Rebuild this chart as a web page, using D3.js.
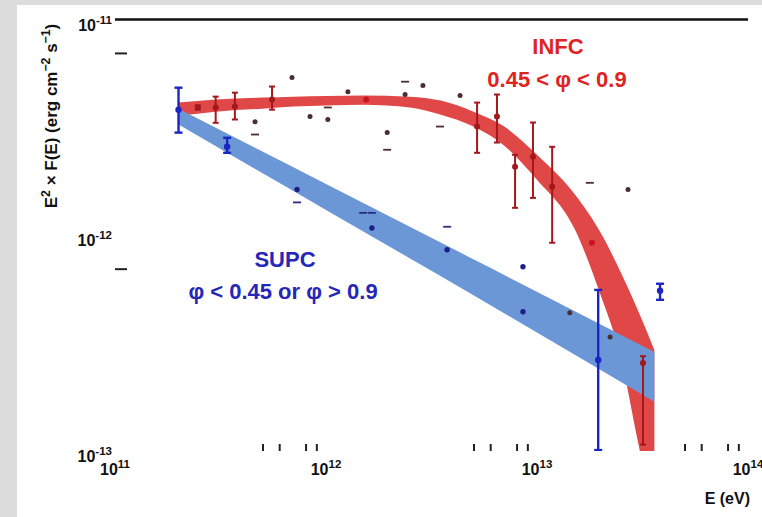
<!DOCTYPE html>
<html><head><meta charset="utf-8">
<script src="https://cdn.jsdelivr.net/npm/d3@7"></script>
<style>
html,body{margin:0;padding:0;background:#dcdcdc;}
svg{display:block;}
</style></head><body>
<svg id="c" width="762" height="517"></svg>
<script>
// ---------- data ----------
const xMajorTicks = [1e11, 1e12, 1e13, 1e14];
const xMajorExp = ["11", "12", "13", "14"];
const xMinorTicks = [5e11, 6e11, 8e11, 9e11, 5e12, 6e12, 8e12, 9e12, 5e13, 6e13, 8e13, 9e13];
const yMajorTicks = [1e-11, 1e-12, 1e-13];
const yMajorExp = ["-11", "-12", "-13"];
const yMinorTicks = [7e-12, 7e-13];

// INFC (0.45 < phi < 0.9) fit band
const infcBandE  = [2e11, 3e11, 5e11, 7e11, 1e12, 1.5e12, 2.5e12, 3.5e12, 5e12, 7e12, 1e13, 1.5e13, 2e13, 2.5e13, 3e13, 3.6e13];
const infcBandHi = [4.12e-12, 4.26e-12, 4.35e-12, 4.39e-12, 4.42e-12, 4.44e-12, 4.39e-12, 4.21e-12, 3.74e-12, 3.19e-12, 2.36e-12, 1.56e-12, 1.03e-12, 6.7e-13, 4.51e-13, 2.94e-13];
const infcBandLo = [3.58e-12, 3.74e-12, 3.86e-12, 3.95e-12, 3.99e-12, 4.03e-12, 3.91e-12, 3.62e-12, 3.19e-12, 2.6e-12, 1.81e-12, 1.08e-12, 5.3e-13, 2.7e-13, 1.12e-13, 4.8e-14];

// SUPC (phi < 0.45 or phi > 0.9) fit band
const supcBandE  = [2e11, 1e12, 5e12, 3.6e13];
const supcBandHi = [3.86e-12, 1.73e-12, 7.74e-13, 2.88e-13];
const supcBandLo = [3.26e-12, 1.31e-12, 5.27e-13, 1.69e-13];

// INFC points with error bars
const infcE  = [2.47e11, 3.0e11, 3.7e11, 5.55e11, 5.2e12, 6.46e12, 7.87e12, 9.57e12, 1.18e13, 3.18e13];
const infcF  = [3.91e-12, 3.91e-12, 3.95e-12, 4.26e-12, 3.19e-12, 3.55e-12, 2.08e-12, 2.31e-12, 1.68e-12, 2.56e-13];
const infcHi = [4.0e-12, 4.39e-12, 4.58e-12, 4.89e-12, 4.12e-12, 4.49e-12, 2.36e-12, 3.33e-12, 2.57e-12, 2.75e-13];
const infcLo = [3.82e-12, 3.32e-12, 3.44e-12, 3.82e-12, 2.41e-12, 2.69e-12, 1.34e-12, 1.49e-12, 9.23e-13, 1.07e-13];
// INFC points without visible bars
const infcDotE = [1.55e12, 1.82e13];
const infcDotF = [4.26e-12, 9.23e-13];

// SUPC points with error bars
const supcE  = [2.0e11, 3.4e11, 1.95e13, 3.83e13];
const supcF  = [3.82e-12, 2.57e-12, 2.64e-13, 5.53e-13];
const supcHi = [4.83e-12, 2.83e-12, 5.58e-13, 5.96e-13];
const supcLo = [2.99e-12, 2.41e-12, 1.01e-13, 5.02e-13];
// SUPC points without visible bars
const supcDotE = [7.29e11, 1.65e12, 3.75e12, 8.58e12, 8.58e12];
const supcDotF = [1.63e-12, 1.08e-12, 8.57e-13, 7.14e-13, 4.42e-13];
const supcCapE = [7.29e11, 1.5e12, 1.65e12, 3.75e12];
const supcCapF = [1.42e-12, 1.27e-12, 1.27e-12, 1.095e-12];

// faint points
const faintDotE = [6.9e11, 4.61e11, 8.4e11, 1.02e12, 1.27e12, 2.37e12, 2.88e12, 1.95e12, 4.32e12, 2.7e13, 1.43e13, 2.22e13];
const faintDotF = [5.38e-12, 3.36e-12, 3.55e-12, 3.44e-12, 4.63e-12, 4.49e-12, 4.94e-12, 2.99e-12, 4.44e-12, 1.63e-12, 4.37e-13, 3.38e-13];
const faintCapE = [4.61e11, 1.02e12, 2.37e12, 1.95e12, 3.47e12, 1.78e13];
const faintCapF = [2.93e-12, 3.91e-12, 5.15e-12, 2.49e-12, 3.19e-12, 1.75e-12];

// ---------- drawing ----------
const svg = d3.select("#c");
svg.append("rect").attr("x", 17).attr("y", 5).attr("width", 745).attr("height", 512).attr("fill", "#ffffff");

const x = d3.scaleLog().domain([1e11, 1e14]).range([115, 748]);
const y = d3.scaleLog().domain([1e-13, 1e-11]).range([451, 19.5]);

svg.append("defs").append("clipPath").attr("id", "plot")
  .append("rect").attr("x", 115).attr("y", 19).attr("width", 633).attr("height", 432);

const font = "'Liberation Sans', Arial, Helvetica, sans-serif";

// top frame line
svg.append("line").attr("x1", x(1e11)).attr("x2", x(1e14)).attr("y1", y(1e-11)).attr("y2", y(1e-11))
  .attr("stroke", "#111").attr("stroke-width", 2.6);

// minor ticks via axes
const gx = svg.append("g").attr("transform", `translate(0,${y(1e-13)})`)
  .call(d3.axisBottom(x).tickValues(xMinorTicks).tickSize(-7).tickFormat(""));
gx.select(".domain").remove();
gx.selectAll(".tick line").attr("stroke", "#222").attr("stroke-width", 2);

const gy = svg.append("g").attr("transform", `translate(${x(1e11)},0)`)
  .call(d3.axisLeft(y).tickValues(yMinorTicks).tickSize(-12).tickFormat(""));
gy.select(".domain").remove();
gy.selectAll(".tick line").attr("stroke", "#222").attr("stroke-width", 2);

// tick labels
function sci(t, base, exp) {
  t.append("tspan").text(base);
  t.append("tspan").attr("dy", -7).attr("font-size", "0.72em").text(exp);
}
xMajorTicks.forEach((v, i) => {
  const t = svg.append("text").attr("x", x(v)).attr("y", 475).attr("text-anchor", "middle")
    .attr("font-family", font).attr("font-weight", "bold").attr("font-size", 16).attr("fill", "#111");
  sci(t, "10", xMajorExp[i]);
});
yMajorTicks.forEach((v, i) => {
  const t = svg.append("text").attr("x", 112).attr("y", y(v) + 11).attr("text-anchor", "end")
    .attr("font-family", font).attr("font-weight", "bold").attr("font-size", 16).attr("fill", "#111");
  sci(t, "10", yMajorExp[i]);
});

// axis titles
const yt = svg.append("text").attr("transform", "translate(57,116) rotate(-90)").attr("text-anchor", "middle")
  .attr("font-family", font).attr("font-weight", "bold").attr("font-size", 17).attr("fill", "#111");
[["E", 0], ["2", -7, true], [" × F(E) (erg cm", 7], ["−2", -7, true], [" s", 7], ["−1", -7, true], [")", 7]]
  .forEach(([s, dy, sup]) => {
    const ts = yt.append("tspan").attr("dy", dy).text(s);
    if (sup) ts.attr("font-size", "0.72em");
  });
svg.append("text").attr("x", 750).attr("y", 504).attr("text-anchor", "end")
  .attr("font-family", font).attr("font-weight", "bold").attr("font-size", 16).attr("fill", "#111").text("E (eV)");

// bands
const plot = svg.append("g").attr("clip-path", "url(#plot)");
const area = d3.area().x(d => x(d[0])).y0(d => y(d[1])).y1(d => y(d[2])).curve(d3.curveMonotoneX);
plot.append("path").datum(infcBandE.map((e, i) => [e, infcBandLo[i], infcBandHi[i]]))
  .attr("d", area).attr("fill", "#e04848");
plot.append("path").datum(supcBandE.map((e, i) => [e, supcBandLo[i], supcBandHi[i]]))
  .attr("d", area).attr("fill", "#6b97d7");

// faint points
plot.selectAll(".fd").data(faintDotE.map((e, i) => [e, faintDotF[i]])).join("circle")
  .attr("cx", d => x(d[0])).attr("cy", d => y(d[1])).attr("r", 2.5).attr("fill", "#4a2e30");
plot.selectAll(".fc").data(faintCapE.map((e, i) => [e, faintCapF[i]])).join("line")
  .attr("x1", d => x(d[0]) - 4).attr("x2", d => x(d[0]) + 4).attr("y1", d => y(d[1])).attr("y2", d => y(d[1]))
  .attr("stroke", "#4a2e30").attr("stroke-width", 1.8);

// error bar helper
function errBars(E, F, Hi, Lo, color, width, cap, r) {
  const data = E.map((e, i) => ({ e, f: F[i], hi: Hi[i], lo: Lo[i] }));
  const g = plot.append("g");
  g.selectAll(".v").data(data).join("line")
    .attr("x1", d => x(d.e)).attr("x2", d => x(d.e)).attr("y1", d => y(d.hi)).attr("y2", d => y(d.lo))
    .attr("stroke", color).attr("stroke-width", width);
  ["hi", "lo"].forEach(k => {
    g.selectAll(".c" + k).data(data).join("line")
      .attr("x1", d => x(d.e) - cap).attr("x2", d => x(d.e) + cap).attr("y1", d => y(d[k])).attr("y2", d => y(d[k]))
      .attr("stroke", color).attr("stroke-width", width);
  });
  g.selectAll("circle").data(data).join("circle")
    .attr("cx", d => x(d.e)).attr("cy", d => y(d.f)).attr("r", r).attr("fill", color);
}

// SUPC dots
plot.selectAll(".sd").data(supcDotE.map((e, i) => [e, supcDotF[i]])).join("circle")
  .attr("cx", d => x(d[0])).attr("cy", d => y(d[1])).attr("r", 2.7).attr("fill", "#1c1f86");
plot.selectAll(".sc").data(supcCapE.map((e, i) => [e, supcCapF[i]])).join("line")
  .attr("x1", d => x(d[0]) - 4).attr("x2", d => x(d[0]) + 4).attr("y1", d => y(d[1])).attr("y2", d => y(d[1]))
  .attr("stroke", "#2a2d80").attr("stroke-width", 1.8);

// INFC dots
plot.selectAll(".id").data(infcDotE.map((e, i) => [e, infcDotF[i]])).join("circle")
  .attr("cx", d => x(d[0])).attr("cy", d => y(d[1])).attr("r", 3).attr("fill", "#c8141c");

errBars(infcE, infcF, infcHi, infcLo, "#a3181c", 2, 3, 3);
errBars(supcE, supcF, supcHi, supcLo, "#1a26c4", 2.4, 4, 3.2);

// annotations
const txt = (xx, yy, s, c) => svg.append("text").attr("x", xx).attr("y", yy).attr("text-anchor", "middle")
  .attr("font-family", font).attr("font-weight", "bold").attr("font-size", 22).attr("fill", c).text(s);
txt(558, 54, "INFC", "#df2424");
txt(557, 87, "0.45 < φ < 0.9", "#df2424");
txt(285, 267, "SUPC", "#2626b8");
txt(283, 299, "φ < 0.45 or φ > 0.9", "#2626b8");
</script>
</body></html>
